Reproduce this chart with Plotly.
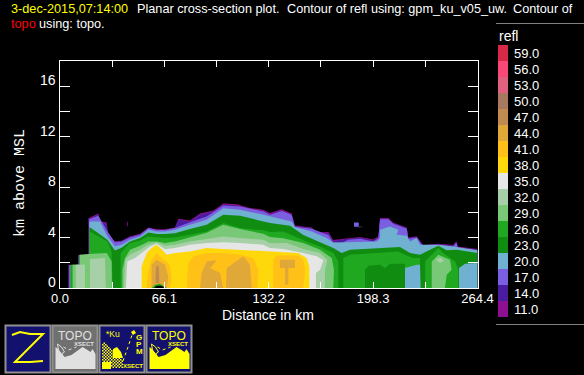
import plotly.graph_objects as go

W, H = 584, 375
legend_values = [11.0, 14.0, 17.0, 20.0, 23.0, 26.0, 29.0, 32.0, 35.0, 38.0, 41.0, 44.0, 47.0, 50.0, 53.0, 56.0, 59.0]
legend_colors = ["#8C1090", "#4A1CA0", "#7A60E0", "#70B0D0", "#108C10", "#20A820", "#78C878", "#A8D0A8", "#E6E6E6",
                 "#FFD80C", "#FFC018", "#E0A838", "#C08A50", "#A87860", "#E06080", "#F84878", "#D82848"]
x_tick_vals = [0.0, 33.05, 66.1, 99.15, 132.2, 165.25, 198.3, 231.35, 264.4]
x_tick_text = ["0.0", "", "66.1", "", "132.2", "", "198.3", "", "264.4"]
y_tick_vals = [0, 2, 4, 6, 8, 10, 12, 14, 16]
y_label_vals = [0, 4, 8, 12, 16]

b11_x = [5.3,5.3,11.6,11.6,18,18,24.3,25.3,29.6,30.6,34.8,39,44.3,50.7,56,61.2,66.5,72.8,75,82.3,88.7,97.1,103.4,111.9,120.3,128.8,133,140.4,146.7,148.8,159.4,162.6,170,173,182.6,190,198.4,201.6,202.7,208,211,219.6,220.6,225.9,230,239.6,249,251,252,264.4,264.4]
b11_y = [0,1.85,1.85,2.64,2.64,5.54,5.9,5.3,5.2,4.1,3.7,3.75,4.1,4.3,4.8,4.65,4.65,4.8,5.5,5.35,5.9,6.15,6.7,6.65,6.35,6.2,5.95,6.25,5.9,4.95,4.8,4.4,4.45,3.8,3.95,4.05,3.85,4.1,5.55,5.55,5.2,4.8,4,4.1,3.4,3.5,3.4,3.7,3.3,3.1,0]
b11b_x = [42.4,42.9,42.9,42.4]
b11b_y = [4.9,4.9,5.25,5.25]
b14_x = [5.6,5.6,11.8,11.8,18.2,18.2,24.3,25.3,29.6,30.6,34.8,39,44.3,50.7,56,61.2,66.5,72.8,75,82.3,88.7,97.1,103.4,111.9,120.3,128.8,133,140.4,146.7,148.8,159.4,162.6,170,173,182.6,190,198.4,201.6,202.7,208,211,219.6,220.6,225.9,230,239.6,249,251,252,264.4,264.4]
b14_y = [0,1.8,1.8,2.6,2.6,5.45,5.8,5.2,5.1,4.0,3.65,3.7,4.05,4.25,4.7,4.6,4.6,4.75,5.4,5.25,5.8,6.05,6.6,6.55,6.25,6.1,5.85,6.15,5.8,4.85,4.75,4.35,4.35,3.7,3.9,3.98,3.78,4.0,5.5,5.5,5.15,4.75,3.95,4.05,3.35,3.45,3.35,3.6,3.22,3.05,0]
b17_x = [5.9,5.9,11.9,11.9,18.4,18.4,24.3,30,34.8,39,44.3,50.7,56,61.2,66.5,72.8,82.3,92.9,103.4,114,128.8,133,140.4,146.7,148.8,159.4,170,173,178.4,182.6,190,198.4,201.6,202.7,207.9,211.1,219.6,220.6,225.9,230,239.6,249,251,252,264.4,264.4]
b17_y = [0,1.8,1.8,2.6,2.6,5.46,5.73,4.5,3.62,3.69,4.0,4.22,4.75,4.59,4.59,4.75,5.22,5.67,6.55,6.46,6.07,5.8,6.1,5.8,4.85,4.7,4.2,3.6,3.56,3.83,3.9,3.69,3.95,5.45,5.45,5.1,4.7,3.9,4.0,3.3,3.4,3.3,3.6,3.15,3.0,0]
b17b_x = [186.2,189.2,189.2,192,192,189.2,189.2,186.2]
b17b_y = [4.85,4.85,4.85,4.85,4.8,4.8,5.2,5.2]
b20_x = [6.2,6.2,12,12,18.6,18.6,25.3,30,34.8,39,44.3,50.7,56,61.2,66.5,72.8,82.3,92.9,103.4,114,128.8,133,146.7,148.8,159.4,168.9,173.1,181.6,200.6,202.7,202.7,209,214.3,213.2,219.6,221.7,225.9,228,239.6,249.1,264.4,264.4]
b20_y = [0,1.8,1.8,2.6,2.6,5.28,5.28,4.1,3.32,3.43,3.83,4.09,4.62,4.49,4.49,4.62,5.01,5.41,6.33,6.2,5.8,5.67,5.28,4.83,4.49,3.96,3.6,3.63,3.69,3.96,4.62,4.88,4.62,4.22,4.15,3.69,3.96,3.43,3.43,3.3,3.0,0]
b23_x = [6.6,6.6,12.2,12.2,18.6,18.6,24.3,30,34.8,39,44.3,50.7,56,61.2,66.5,72.8,82.3,92.9,103.4,114,128.8,133,145.7,154.1,173.1,178.4,183.7,200.6,215.3,221.7,228,234.3,239.6,244.9,251.2,264.4,264.4]
b23_y = [0,1.8,1.8,2.6,2.6,4.83,4.35,3.83,2.98,3.2,3.69,3.96,4.41,4.28,4.28,4.35,4.67,5.01,5.8,5.73,5.28,5.15,4.94,4.2,3.17,2.77,3.03,3.17,3.25,2.77,2.64,3.03,3.35,3.0,3.03,2.77,0]
b26a_x = [7.0,7.0,12.4,12.4,18.8,18.8,30,32.7,33.4]
b26a_y = [0,1.85,1.85,2.6,2.6,4.49,3.69,2.9,0]
b26b_x = [38.4,38.4,44.3,50.7,56,61.2,66.5,72.8,82.3,92.9,103.4,114,128.8,133,141.4,148.8,156.2,164.7,173.1,176.3,176.3]
b26b_y = [0,2.77,3.56,3.77,4.09,4.01,3.96,4.01,4.22,4.49,5.15,4.75,4.57,4.45,4.49,4.09,3.69,3.3,2.77,2.11,0]
b26c_x = [179.4,179.4,183.7,194.2,205.8,214.3,218.5,223.8,228,228]
b26c_y = [0,2.37,2.64,2.72,2.82,2.9,2.64,2.37,2.37,0]
b26d_x = [231.2,231.2,234.3,239.6,242.8,250.2,252.3,252.3]
b26d_y = [0,2.11,2.51,3.17,2.77,2.11,1.45,0]
b29a_x = [8,8,12.6,12.6,18,29.6,32.7,32.9]
b29a_y = [0,1.85,1.85,2.64,2.7,2.77,2.11,0]
b29b_x = [39.5,39.5,41.2,44.3,50.7,56,61.2,66.5,72.8,82.3,92.9,103.4,114,128.8,133,141.4,154.1,164.7,172.1,173.5,173.1]
b29b_y = [0,1.45,2.37,3.03,3.35,3.69,3.69,3.56,3.69,4.01,4.38,5.01,4.67,4.3,4.05,3.95,3.56,3.03,2.37,1.45,0]
b32a_x = [10,10,15.8,15.8]
b32a_y = [0,1.85,1.85,0]
b32b_x = [19,19,28.5,29]
b32b_y = [0,2.3,2.37,0]
b32c_x = [40.5,41.2,44.3,50.7,56,61.2,66.5,72.8,82.3,92.9,103.4,114,128.8,133,143.6,154.1,164.7,169.3,167.8,167.8]
b32c_y = [0,2.24,2.64,3.03,3.43,3.62,3.35,3.43,3.69,3.88,4.09,3.96,3.83,3.55,3.56,3.1,2.77,2.24,1.45,0]
b35_x = [41.8,42.6,47.5,51.7,57,61.2,66.5,72.8,82.3,92.9,103.4,114,128.8,133,141.4,154.1,162.6,166.8,164.7,162.1,162.1]
b35_y = [0,2.11,2.37,2.77,3.3,3.5,3.08,3.17,3.43,3.56,3.62,3.56,3.43,3.17,3.1,2.77,2.51,2.2,1.45,1.19,0]
b38_x = [51.7,51.7,54.9,58,61.2,64.4,67.5,72.8,82.3,92.9,103.4,114,128.8,133,141.4,150.9,156.2,157.9,157.9]
b38_y = [0,1.72,2.77,3.17,3.43,3.08,2.64,2.77,2.9,3.17,3.1,3.03,2.9,2.85,2.82,2.77,2.37,1.72,0]
b41a_x = [54.9,56,58,61.2,64.4,67.5,69.7,70.7,69.7]
b41a_y = [0,1.45,2.24,2.77,2.37,2.11,1.72,0.8,0]
b41b_x = [80.2,81.3,84.4,92.9,103.4,114,122.4,125.6,125]
b41b_y = [0,1.98,2.51,2.77,2.77,2.64,2.37,1.45,0]
b41c_x = [135.1,135.1,137.2,150.9,154.1,155.2,154.1]
b41c_y = [0,2.24,2.57,2.57,2.24,1.45,0]
b44a_x = [58,58,61.2,66.5,68.6,67.5]
b44a_y = [0,1.85,2.24,1.85,0.92,0]
b44b_x = [88.7,89.7,92.9,99.2,97.1,95,101.3,103.4]
b44b_y = [0,1.19,2.11,2.2,1.85,1.58,1.19,0]
b44c_x = [105.1,105.6,116.1,120.3,121.4]
b44c_y = [0,1.58,2.51,1.85,0]
b44d_x = [139.3,139.3,148.8,148.8,144.6,144.6,142.5,142.5]
b44d_y = [1.58,2.24,2.24,1.58,1.58,0.26,0.26,1.58]
b47a_x = [60.4,60.8,62.5,62.9]
b47a_y = [0.4,1.72,1.72,0.4]
pocket23_x = [193.2,193.2,195.3,202.7,205.8,209,218.5,218.5]
pocket23_y = [0,1.45,1.77,1.85,1.58,1.93,1.93,0]
pocket20a_x = [218.5,218.5,225.9,228,228.4]
pocket20a_y = [0,1.58,1.85,1.85,0]
pocket29_x = [235.4,235.4,239.6,247,248,244.9,243.8]
pocket29_y = [0,2.11,2.64,2.24,1.45,1.06,0]
pocket32_x = [237.9,240.7,243.2,240.7]
pocket32_y = [2.24,2.42,2.19,1.98]
pocket20b_x = [252.7,252.7,256.5,264.4,264.4]
pocket20b_y = [0,1.58,1.93,1.98,0]
terrain_rim_x = [58,60.1,63.3,66.5,67.5]
terrain_rim_y = [0,0.26,0.34,0.13,0]
terrain_x = [59.5,61.2,64.4,66.1]
terrain_y = [0,0.18,0.18,0]

bands = [
    (11.0,b11_x,b11_y),(11.0,b11b_x,b11b_y),(14.0,b14_x,b14_y),(17.0,b17_x,b17_y),(17.0,b17b_x,b17b_y),(20.0,b20_x,b20_y),(23.0,b23_x,b23_y),
    (26.0,b26a_x,b26a_y),(26.0,b26b_x,b26b_y),(26.0,b26c_x,b26c_y),(26.0,b26d_x,b26d_y),
    (29.0,b29a_x,b29a_y),(29.0,b29b_x,b29b_y),(32.0,b32a_x,b32a_y),(32.0,b32b_x,b32b_y),(32.0,b32c_x,b32c_y),
    (35.0,b35_x,b35_y),(38.0,b38_x,b38_y),(41.0,b41a_x,b41a_y),(41.0,b41b_x,b41b_y),(41.0,b41c_x,b41c_y),
    (44.0,b44a_x,b44a_y),(44.0,b44b_x,b44b_y),(44.0,b44c_x,b44c_y),(44.0,b44d_x,b44d_y),(47.0,b47a_x,b47a_y),
    (23.0,pocket23_x,pocket23_y),(20.0,pocket20a_x,pocket20a_y),(29.0,pocket29_x,pocket29_y),(32.0,pocket32_x,pocket32_y),(20.0,pocket20b_x,pocket20b_y),
    (26.0,terrain_rim_x,terrain_rim_y),
]
color_of = dict(zip(legend_values, legend_colors))

def px(x): return x / W
def py(y): return 1 - y / H

fig = go.Figure()
for val, xs, ys in bands:
    fig.add_trace(go.Scatter(x=xs, y=ys, mode="lines", fill="toself", fillcolor=color_of[val],
                             line=dict(width=0, color=color_of[val]), showlegend=False, hoverinfo="skip"))
fig.add_trace(go.Scatter(x=terrain_x, y=terrain_y, mode="lines", fill="toself", fillcolor="#000000",
                         line=dict(width=0, color="#000000"), showlegend=False, hoverinfo="skip"))
fig.add_trace(go.Bar(x=[1]*len(legend_values), y=[f"{v:.1f}" for v in legend_values], orientation="h",
                     marker=dict(color=legend_colors, line=dict(width=0)), width=1, xaxis="x2", yaxis="y2",
                     showlegend=False, hoverinfo="skip"))

FONT = "Liberation Sans"
shapes, ann = [], []

def rect(x0, y0, x1, y1, fill, line=None, lw=0):
    shapes.append(dict(type="rect", xref="paper", yref="paper", x0=px(x0), x1=px(x1), y0=py(y0), y1=py(y1),
                       fillcolor=fill, line=dict(color=line or fill, width=lw), layer="above"))

def poly(pts, fill=None, line=None, lw=0, dash="solid"):
    d = "M" + " L".join(f"{px(a):.4f},{py(b):.4f}" for a, b in pts) + (" Z" if fill else "")
    shapes.append(dict(type="path", xref="paper", yref="paper", path=d, fillcolor=fill or "rgba(0,0,0,0)",
                       line=dict(color=line or "rgba(0,0,0,0)", width=lw, dash=dash), layer="above"))

def text(x, y, s, size, color="#FFFFFF", anchor="left", angle=0, family=FONT):
    ann.append(dict(xref="paper", yref="paper", x=px(x), y=py(y), text=s, showarrow=False, xanchor=anchor,
                    yanchor="middle", textangle=angle, font=dict(family=family, size=size, color=color), borderpad=0))

# title
text(10, 9, "3-dec-2015,07:14:00", 12.7, "#FFFF00")
text(136, 9, "Planar cross-section plot.", 12.7)
text(286, 9, "Contour of refl using: gpm_ku_v05_uw.", 12.7)
text(512, 9, "Contour of", 12.7)
text(10, 24, "topo", 12.7, "#FF0000")
text(38, 24, "using: topo.", 12.7)
text(268, 315, "Distance in km", 14, anchor="center")
text(20, 183, "km\u00a0above\u00a0MSL", 15, anchor="center", angle=-90, family="Liberation Mono")
text(498, 36, "refl", 14)
for v in y_label_vals:
    ann.append(dict(xref="paper", yref="y", x=px(58), y=v, yshift=6, text=str(v), showarrow=False, xanchor="right",
                    yanchor="middle", font=dict(family=FONT, size=14, color="#FFFFFF")))

rect(496, 23, 584, 24, "#808080")
rect(496, 324, 584, 325, "#808080")

# toolbar icons
NAVY = "#12126E"; YEL = "#FFFF00"; BORD = "#909090"; GREY = "#707070"
for x0, bg in [(5.5, NAVY), (52.5, GREY), (99.5, NAVY), (146.5, NAVY)]:
    rect(x0, 325.5, x0 + 45, 372.5, bg, BORD, 2)
poly([(12,335),(20,332),(30,334),(43,334),(15,362),(30,362),(43,361)], None, YEL, 2)
for x0, col, bg in [(52.5, "#E0E0E0", GREY), (146.5, YEL, NAVY)]:
    text(x0 + 22.5, 336, "TOPO", 12, col, "center")
    text(x0 + 31.5, 344, "<b>XSECT</b>", 6, col, "center")
    poly([(x0+3,369),(x0+3,347),(x0+7,350),(x0+12,357),(x0+19,355),(x0+30,347),(x0+35,350),(x0+38,352),(x0+40,349),(x0+43,354),(x0+43,369)], col)
    poly([(x0+5,344),(x0+9,347),(x0+12,352),(x0+9,354),(x0+6,350)], bg, col, 1)
    poly([(x0+11,347),(x0+16,350),(x0+24,347)], None, col, 1, "dot")
# GPM icon
for col_i in range(14):
    for row_i in range(18):
        gx, gy = 102 + col_i * 1.5, 341 + row_i * 1.5
        if (col_i + row_i) % 2 == 0 and gy - 341 > (gx - 102) * 0.2 - 1 and gy > 341 + (gx - 102) * 0.85 and gx < 123:
            rect(gx, gy, gx + 1.5, gy + 1.5, YEL)
poly([(113,349),(117,347),(121,352),(123,358),(113,358)], YEL)
poly([(102,362),(111,362),(111,369),(102,369)], YEL)
poly([(123,361),(128,347),(132,335)], None, YEL, 1, "dot")
poly([(131,332),(134,330),(136,333),(133,335)], YEL)
text(105, 334, "*Ku", 8.5, YEL, "left")
text(139, 337, "<b>G</b>", 8, YEL, "center")
text(139, 344, "<b>P</b>", 8, YEL, "center")
text(139, 351, "<b>M</b>", 8, YEL, "center")
text(133, 366, "<b>XSECT</b>", 6, YEL, "center")

axis_common = dict(showgrid=False, zeroline=False, showline=True, linecolor="#FFFFFF", linewidth=1, mirror="allticks",
                   ticks="inside", tickcolor="#FFFFFF", tickwidth=1)
fig.update_layout(
    width=W, height=H, margin=dict(l=0, r=0, t=0, b=0, pad=0, autoexpand=False), paper_bgcolor="#000000", plot_bgcolor="#000000",
    showlegend=False, bargap=0, shapes=shapes, annotations=ann,
    xaxis=dict(axis_common, domain=[px(60), px(477.5)], range=[0, 264.4], tickmode="array", tickvals=x_tick_vals,
               ticktext=x_tick_text, ticklen=6, tickfont=dict(family=FONT, size=13, color="#FFFFFF"), tickangle=0, anchor="y",
               ticklabelstandoff=-2),
    yaxis=dict(axis_common, domain=[py(288), py(61)], range=[0, 18], tickmode="array", tickvals=y_tick_vals,
               ticktext=[""] * len(y_tick_vals), ticklen=10, anchor="x"),
    xaxis2=dict(domain=[px(498), px(508)], range=[0, 1], visible=False, anchor="y2"),
    yaxis2=dict(domain=[py(317), py(45)], type="category", side="right", anchor="x2", showgrid=False, zeroline=False,
                showline=False, ticks="", tickfont=dict(family=FONT, size=13, color="#FFFFFF"), ticklabelstandoff=5,
                categoryorder="array", categoryarray=[f"{v:.1f}" for v in legend_values]),
)
fig.write_html("out.html", config={"displayModeBar": False},
               post_script="document.body.style.margin='0';document.body.style.background='#000';document.documentElement.style.overflow='hidden';")
